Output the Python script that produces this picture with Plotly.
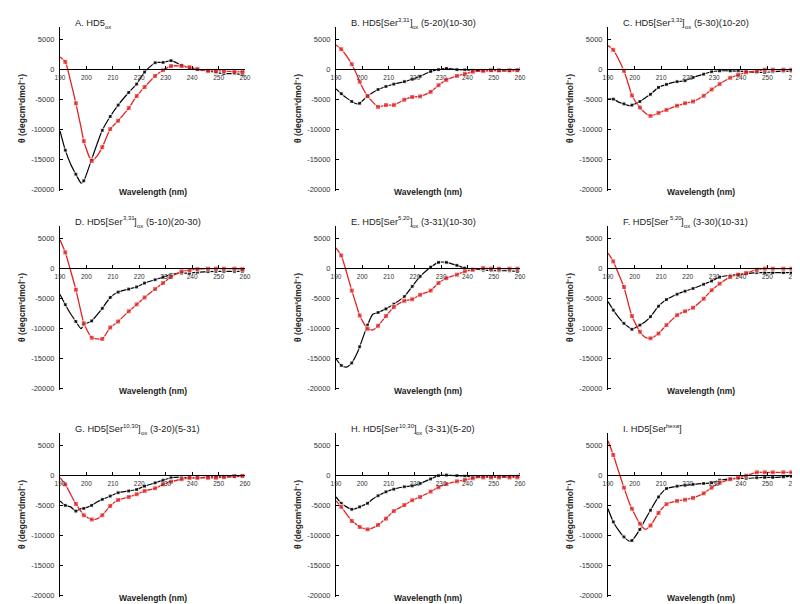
import plotly.graph_objects as go

# ---------------- data ----------------
WL = [190, 192, 194, 196, 198, 199, 202, 204, 206, 209, 212, 216, 219, 222,
      226, 229, 232, 236, 239, 242, 246, 249, 252, 256, 259, 260]
MARKED_WL = [192, 196, 199, 202, 206, 209, 212, 216, 219, 222, 226, 229, 232,
             236, 239, 242, 246, 249, 252, 256, 259]

# panel titles as (text, kind) pieces; kind: n = normal, sup = superscript, sub = subscript
TITLES = [
    [("A. HD5", "n"), ("ox", "sub")],
    [("B. HD5[Ser", "n"), ("3,31", "sup"), ("]", "n"), ("ox", "sub"), (" (5-20)(10-30)", "n")],
    [("C. HD5[Ser", "n"), ("3,31", "sup"), ("]", "n"), ("ox", "sub"), (" (5-30)(10-20)", "n")],
    [("D. HD5[Ser", "n"), ("3,31", "sup"), ("]", "n"), ("ox", "sub"), (" (5-10)(20-30)", "n")],
    [("E. HD5[Ser", "n"), ("5,20", "sup"), ("]", "n"), ("ox", "sub"), (" (3-31)(10-30)", "n")],
    [("F. HD5[Ser", "n"), ("5,20", "sup"), ("]", "n"), ("ox", "sub"), (" (3-30)(10-31)", "n")],
    [("G. HD5[Ser", "n"), ("10,30", "sup"), ("]", "n"), ("ox", "sub"), (" (3-20)(5-31)", "n")],
    [("H. HD5[Ser", "n"), ("10,30", "sup"), ("]", "n"), ("ox", "sub"), (" (3-31)(5-20)", "n")],
    [("I. HD5[Ser", "n"), ("hexa", "sup"), ("]", "n")],
]

A_black = [-10300, -13500, -15800, -17500, -19000, -18600, -15000, -12500, -10200, -7900, -6000, -3900, -2500, -500,
           1050, 1100, 1400, 650, 200, -100, -300, -600, -750, -750, -900, -900]
A_red = [2000, 1200, -2000, -5700, -9800, -12000, -15300, -14500, -13000, -10000, -8600, -6500, -4500, -3000,
         -1150, -200, 500, 500, 300, 0, -300, -300, -300, -450, -450, -450]
B_black = [-3300, -4100, -4800, -5400, -5800, -5700, -4500, -3900, -3400, -2900, -2500, -2100, -1700, -1200,
           -400, -100, 100, -100, -150, -200, -250, -250, -300, -300, -200, 300]
B_red = [4000, 3300, 2200, 800, -1000, -2100, -4500, -5500, -6300, -6000, -6000, -5100, -4650, -4550,
         -3800, -2700, -1800, -1150, -800, -450, -300, -200, -200, -200, -200, -200]
C_black = [-5000, -5000, -5500, -5800, -6100, -6000, -5400, -4800, -4200, -3050, -2550, -2100, -1950, -1400,
           -850, -450, -300, -300, -350, -400, -550, -550, -450, -350, -350, 100]
C_red = [3900, 3200, 1600, -300, -3000, -4400, -6400, -7300, -7800, -7300, -6800, -6100, -5700, -5400,
         -4450, -3400, -2500, -1450, -950, -550, -300, -100, -100, -100, -100, -100]
D_black = [-4400, -6100, -7600, -8900, -10100, -9400, -8800, -7800, -6700, -4900, -4000, -3500, -3150, -2500,
           -1950, -1500, -1100, -850, -850, -700, -600, -550, -550, -550, -550, -550]
D_red = [4700, 2600, -400, -3600, -7400, -9200, -11600, -11800, -11800, -9900, -8900, -7200, -6050, -4900,
         -3500, -2500, -1500, -550, -350, -200, -100, -100, -100, -100, -200, -200]
E_black = [-15100, -16200, -16500, -15800, -14200, -13100, -9500, -7700, -7400, -6800, -6000, -4750, -3050, -1400,
           150, 950, 950, 450, 0, -150, -350, -400, -450, -450, -550, -550]
E_red = [3350, 2100, -700, -3750, -6500, -7900, -10100, -10300, -9600, -8000, -6500, -5450, -5200, -4450,
         -3750, -2500, -1700, -1100, -550, -300, 0, -100, -100, -100, -100, -100]
F_black = [-5600, -7000, -8200, -9200, -9900, -10200, -9500, -8950, -8100, -6350, -5250, -4350, -3850, -3400,
           -2700, -2150, -1500, -1200, -1100, -950, -770, -770, -770, -770, -770, -770]
F_red = [2500, 1100, -1000, -3150, -6500, -8000, -10600, -11550, -11700, -10900, -9500, -7850, -7200, -6600,
         -5100, -3700, -2600, -1500, -1100, -830, -280, -100, -100, -100, -100, -100]
G_black = [-4300, -5050, -5300, -6000, -5600, -5550, -5050, -4500, -4050, -3500, -2950, -2650, -2400, -1850,
           -1300, -850, -450, -350, -450, -450, -350, -300, -300, -300, -150, 0]
G_red = [-450, -1550, -3200, -4800, -6100, -6700, -7400, -7300, -6700, -5150, -4150, -3650, -3200, -2650,
         -2200, -1550, -1100, -700, -450, -450, -450, -450, -350, -150, -150, -150]
H_black = [-3650, -4700, -5300, -5700, -5500, -5300, -4700, -4000, -3450, -2800, -2350, -1950, -1800, -1400,
           -650, -100, 0, -100, -200, -300, -300, -300, -300, -300, -200, 300]
H_red = [-4300, -5300, -6500, -7650, -8300, -8650, -9050, -8800, -8300, -7250, -6000, -5000, -4200, -3650,
         -2750, -2050, -1500, -1050, -800, -550, -400, -400, -400, -400, -400, -400]
I_black = [-5600, -7800, -9200, -10300, -11000, -10900, -9050, -7400, -5850, -3650, -2250, -1850, -1700, -1550,
           -1400, -1300, -850, -650, -550, -550, -450, -400, -400, -300, -200, -200]
I_red = [5700, 3350, 600, -2100, -4600, -5600, -8100, -9050, -8400, -6300, -4850, -4300, -4100, -3800,
         -3050, -2100, -1300, -700, -400, -100, 450, 450, 450, 450, 450, 450]

BLACK_SERIES = [A_black, B_black, C_black, D_black, E_black, F_black, G_black, H_black, I_black]
RED_SERIES = [A_red, B_red, C_red, D_red, E_red, F_red, G_red, H_red, I_red]

X_TICKS = [190, 200, 210, 220, 230, 240, 250, 260]
X_TICK_TEXT = ["190", "200", "210", "220", "230", "240", "250", "260"]
Y_TICKS = [-20000, -15000, -10000, -5000, 0, 5000]
Y_TICK_TEXT = ["-20000", "-15000", "-10000", "-5000", "0", "5000"]
Y_TITLE = "θ (degcm²dmol⁻¹)"
X_TITLE = "Wavelength (nm)"

# ---------------- layout ----------------
W, H = 800, 604
COLS = [(52, 237), (328, 512), (600, 786)]     # pixel x of 190 and 260
ROWS = [(19, 183), (218, 382), (425, 589)]     # pixel y of top/bottom of y range
Y_RANGE = [-20300, 7000]
RED = "#e02424"
FONT = "Liberation Sans, Arial, sans-serif"
TITLE_SIZE = 9.3
SCRIPT_SIZE = 6

# Arial / Liberation Sans advance widths (per 1000 em)
ADV = {" ": 278, "(": 333, ")": 333, ",": 278, "-": 333, ".": 278, "[": 278, "]": 278,
       "A": 667, "B": 667, "C": 722, "D": 722, "E": 667, "F": 611, "G": 778, "H": 722,
       "I": 278, "S": 667, "a": 556, "e": 556, "h": 556, "o": 556, "r": 333, "x": 500}


def text_width(s, size):
    return sum(ADV.get(ch, 556) for ch in s) * size / 1000.0


fig = go.Figure()
annotations = []
layout = {}

black_sizes = [4 if w in MARKED_WL else 0 for w in WL]
red_sizes = [5 if w in MARKED_WL else 0 for w in WL]

for i in range(9):
    r, c = divmod(i, 3)
    px0, px1 = COLS[c]
    py0, py1 = ROWS[r]
    xd = [px0 / W, px1 / W]
    yd = [1 - py1 / H, 1 - py0 / H]
    zero_frac = yd[0] + (0 - Y_RANGE[0]) / (Y_RANGE[1] - Y_RANGE[0]) * (yd[1] - yd[0])
    n = "" if i == 0 else str(i + 1)
    xa, ya = "x" + n, "y" + n

    layout["xaxis" + n] = dict(
        domain=xd, range=[190, 260], anchor="free", position=zero_frac,
        tickvals=X_TICKS, ticktext=X_TICK_TEXT, showline=True, linecolor="black", linewidth=1,
        ticks="inside", ticklen=3, tickcolor="black", showgrid=False, zeroline=False,
        ticklabelstandoff=2,
        tickfont=dict(size=6.5, color="#333", family=FONT), automargin=False,
    )
    layout["yaxis" + n] = dict(
        domain=yd, range=Y_RANGE, anchor=xa, tickvals=Y_TICKS, ticktext=Y_TICK_TEXT,
        showline=True, linecolor="black", linewidth=1, ticks="inside", ticklen=3,
        tickcolor="black", showgrid=False, zeroline=False, ticklabelstandoff=3,
        tickfont=dict(size=7.5, color="#333", family=FONT), automargin=False,
    )

    fig.add_trace(go.Scatter(
        x=WL, y=BLACK_SERIES[i], xaxis=xa, yaxis=ya, mode="lines+markers",
        line=dict(color="black", width=1.2, shape="spline", smoothing=0.6),
        marker=dict(symbol="square", size=black_sizes, color="black"),
        showlegend=False, hoverinfo="skip"))
    fig.add_trace(go.Scatter(
        x=WL, y=RED_SERIES[i], xaxis=xa, yaxis=ya, mode="lines+markers",
        line=dict(color=RED, width=1.3, shape="spline", smoothing=0.6),
        marker=dict(symbol="square", size=red_sizes, color=RED),
        showlegend=False, hoverinfo="skip"))

    # panel title, laid out piece by piece (super/subscripts as smaller texts)
    cx = px0 + 15.0
    cy = py0 - 4.0
    for txt, kind in TITLES[i]:
        size = TITLE_SIZE if kind == "n" else SCRIPT_SIZE
        lead = len(txt) - len(txt.lstrip(" "))
        cx += text_width(" " * lead, size)
        body = txt.lstrip(" ")
        dy = {"n": 0.0, "sup": -3.5, "sub": 4.0}[kind]
        annotations.append(dict(
            text=body, x=cx / W, y=1 - (cy + dy) / H, xref="paper", yref="paper",
            xanchor="left", yanchor="middle", showarrow=False, borderpad=0, borderwidth=0,
            font=dict(size=size, color="#222", family=FONT)))
        cx += text_width(body, size)
    # y title
    annotations.append(dict(
        text="<b>" + Y_TITLE + "</b>", x=(px0 - 38) / W, y=(yd[0] + yd[1]) / 2,
        xref="paper", yref="paper", textangle=-90, xanchor="center", yanchor="middle",
        showarrow=False, font=dict(size=8.5, color="#222", family=FONT)))
    # x title
    annotations.append(dict(
        text="<b>" + X_TITLE + "</b>", x=(px0 + px1) / 2 / W, y=1 - (py1 + 1) / H,
        xref="paper", yref="paper", xanchor="center", yanchor="middle",
        showarrow=False, font=dict(size=8.5, color="#222", family=FONT)))

fig.update_layout(
    width=W, height=H, margin=dict(l=0, r=0, t=0, b=0),
    paper_bgcolor="white", plot_bgcolor="white",
    annotations=annotations, showlegend=False, **layout)

fig.write_html("out.html")
